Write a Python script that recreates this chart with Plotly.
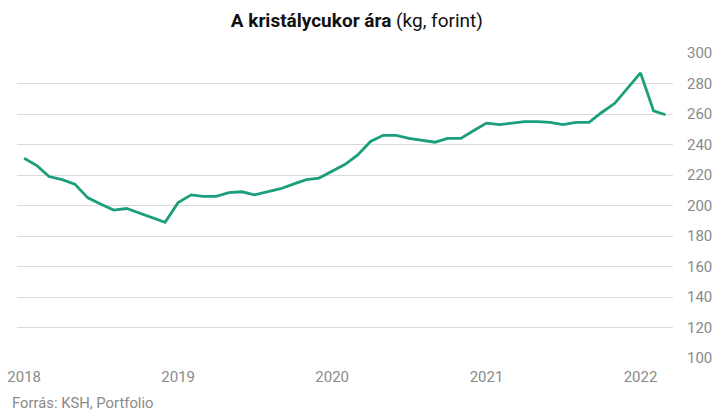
import pandas as pd
import plotly.graph_objects as go

# Monthly sugar price, HUF/kg, Jan 2018 – Mar 2022
MONTHS = pd.date_range("2018-01-01", "2022-03-01", freq="MS")
PRICE = [
    231, 226, 219, 217, 214, 205, 201, 197, 198, 195, 192, 189,   # 2018
    202, 207, 206, 206, 208.5, 209, 207, 209, 211, 214, 217, 218,  # 2019
    222.5, 227, 233, 242, 246, 246, 244, 243, 241.5, 244, 244, 249,  # 2020
    254, 253, 254, 255, 255, 254.5, 253, 254.5, 254.5, 261, 267, 277,  # 2021
    287, 262, 259.5,  # 2022
]
Y_TICKS = [100, 120, 140, 160, 180, 200, 220, 240, 260, 280, 300]
X_TICKS = ["2018-01-01", "2019-01-01", "2020-01-01", "2021-01-01", "2022-01-01"]
X_LABELS = ["2018", "2019", "2020", "2021", "2022"]

LINE_CLR = "#1a9e7b"
GRID_CLR = "#dadada"
TICK_CLR = "#8a8a8a"

fig = go.Figure()
fig.add_trace(go.Scatter(
    x=MONTHS, y=PRICE, mode="lines",
    line=dict(color=LINE_CLR, width=2.8),
    hovertemplate="%{x|%Y-%m}: %{y} Ft<extra></extra>",
))

fig.update_layout(
    width=718, height=415,
    paper_bgcolor="white", plot_bgcolor="white",
    margin=dict(l=17, r=45, t=53, b=57),
    showlegend=False,
    font=dict(family="Roboto", color=TICK_CLR),
    title=dict(
        text="<b>A kristálycukor ára</b> (kg, forint)",
        x=0.497, xanchor="center", y=0.952, yanchor="middle",
        font=dict(family="Roboto", size=19, color="#111111"),
    ),
    xaxis=dict(
        type="date", automargin=False,
        range=["2017-12-15", "2022-03-19"],
        tickvals=X_TICKS, ticktext=X_LABELS,
        showgrid=False, zeroline=False, showline=False,
        ticks="", ticklabelstandoff=8, ticklabeloverflow="allow",
        tickfont=dict(size=15, color=TICK_CLR),
    ),
    yaxis=dict(
        side="right", range=[100, 300], automargin=False,
        tickvals=Y_TICKS,
        showgrid=True, gridcolor=GRID_CLR, gridwidth=1,
        zeroline=False, showline=False,
        ticks="", ticklabelstandoff=13,
        tickfont=dict(size=15, color=TICK_CLR),
    ),
)

fig.add_annotation(
    text="Forrás: KSH, Portfolio",
    xref="paper", yref="paper", x=-0.011, y=-0.1475,
    xanchor="left", yanchor="middle", showarrow=False,
    font=dict(family="Roboto", size=14.8, color=TICK_CLR),
)

# drop the default 8px body margin so the 718x415 figure fills the window
fig.write_html(
    "out.html",
    config={"displayModeBar": False},
    post_script="document.body.style.margin='0';document.body.style.overflow='hidden';",
)
